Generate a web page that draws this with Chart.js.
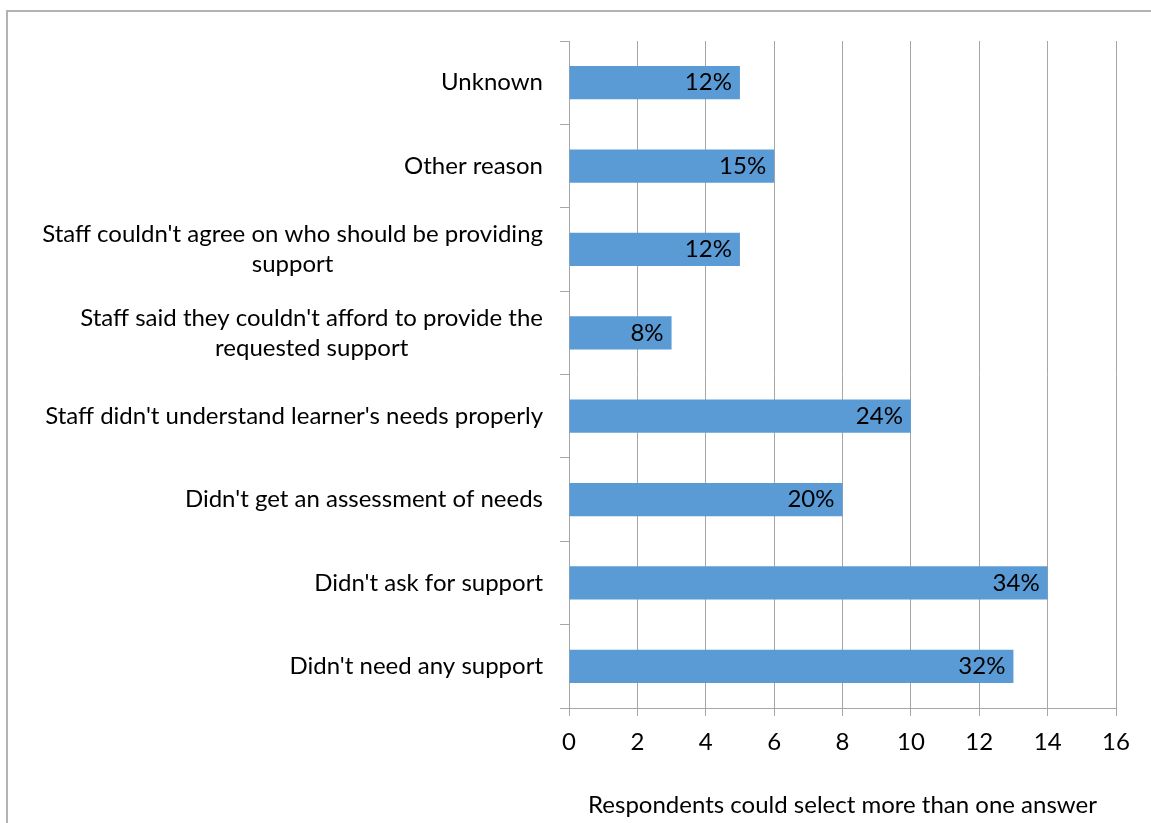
<!DOCTYPE html>
<html>
<head>
<meta charset="utf-8">
<title>Reasons support was not received</title>
<script src="https://cdn.jsdelivr.net/npm/chart.js@4.4.1/dist/chart.umd.min.js"></script>
<style>
  html, body { margin: 0; padding: 0; background: #fff; overflow: hidden; }
  #wrap { position: relative; width: 1151px; height: 823px; }
  #frame {
    position: absolute; left: 6px; top: 10px;
    width: 1300px; height: 1000px;
    border: 2px solid #b3b3b3; box-sizing: border-box;
  }
  #reasonChart { position: absolute; left: 0; top: 0; }
</style>
</head>
<body>
<div id="wrap">
  <div id="frame"></div>
  <canvas id="reasonChart" width="1151" height="823"></canvas>
</div>
<script>
// reasons, top to bottom
var reasons = [
  'Unknown',
  'Other reason',
  ["Staff couldn't agree on who should be providing", 'support'],
  ["Staff said they couldn't afford to provide the", 'requested support'],
  "Staff didn't understand learner's needs properly",
  "Didn't get an assessment of needs",
  "Didn't ask for support",
  "Didn't need any support"
];
// number of respondents per reason
var respondents = [5, 6, 5, 3, 10, 8, 14, 13];
// share of respondents shown on each bar
var shares = ['12%', '15%', '12%', '8%', '24%', '20%', '34%', '32%'];
// x axis
var xMin = 0, xMax = 16, xStep = 2;
var axisNote = 'Respondents could select more than one answer';

var FONT = 'Lato';
var TXT = '#000000';
var GRID = '#a6a6a6';

// category labels: right aligned block, lines centred within it
var reasonLabels = {
  id: 'reasonLabels',
  afterDraw: function (chart) {
    var ctx = chart.ctx;
    var yScale = chart.scales.y;
    var right = chart.chartArea.left - 26;
    var lh = 30;
    ctx.save();
    ctx.font = '24px ' + FONT;
    ctx.fillStyle = TXT;
    ctx.textAlign = 'center';
    ctx.textBaseline = 'middle';
    reasons.forEach(function (lab, i) {
      var lines = Array.isArray(lab) ? lab : [lab];
      var widest = 0;
      lines.forEach(function (l) { widest = Math.max(widest, ctx.measureText(l).width); });
      var cx = right - widest / 2;
      var cy = yScale.getPixelForValue(i);
      var y0 = cy - (lines.length - 1) * lh / 2;
      lines.forEach(function (l, k) { ctx.fillText(l, cx, y0 + k * lh); });
    });
    ctx.restore();
  }
};

// percentage labels at the end of each bar
var shareLabels = {
  id: 'shareLabels',
  afterDatasetsDraw: function (chart) {
    var ctx = chart.ctx;
    var meta = chart.getDatasetMeta(0);
    ctx.save();
    ctx.font = '24px ' + FONT;
    ctx.fillStyle = TXT;
    ctx.textAlign = 'right';
    ctx.textBaseline = 'middle';
    meta.data.forEach(function (bar, i) {
      ctx.fillText(shares[i], bar.x - 8, bar.y);
    });
    ctx.restore();
  }
};

var ctx = document.getElementById('reasonChart').getContext('2d');
var reasonChart = new Chart(ctx, {
  type: 'bar',
  data: {
    labels: reasons,
    datasets: [{
      label: 'Respondents',
      data: respondents,
      backgroundColor: '#5b9bd5',
      borderWidth: 0,
      categoryPercentage: 1,
      barPercentage: 0.4
    }]
  },
  options: {
    indexAxis: 'y',
    responsive: false,
    animation: false,
    layout: { padding: { top: 41, right: 35, left: 0, bottom: 0 } },
    plugins: {
      legend: { display: false },
      tooltip: { enabled: false }
    },
    scales: {
      x: {
        min: xMin,
        max: xMax,
        ticks: {
          stepSize: xStep,
          color: TXT,
          padding: 12,
          font: { family: FONT, size: 24 }
        },
        grid: { color: GRID, lineWidth: 1, tickLength: 8 },
        border: { color: GRID, width: 1 },
        title: {
          display: true,
          text: axisNote,
          color: TXT,
          font: { family: FONT, size: 24 },
          padding: { top: 0, bottom: 3 }
        },
        afterFit: function (scale) { scale.height = 115; }
      },
      y: {
        ticks: { display: false },
        grid: { color: GRID, drawOnChartArea: false, tickLength: 9, offset: true },
        border: { color: GRID, width: 1 },
        afterFit: function (scale) { scale.width = 569; }
      }
    }
  },
  plugins: [reasonLabels, shareLabels]
});
</script>
</body>
</html>
